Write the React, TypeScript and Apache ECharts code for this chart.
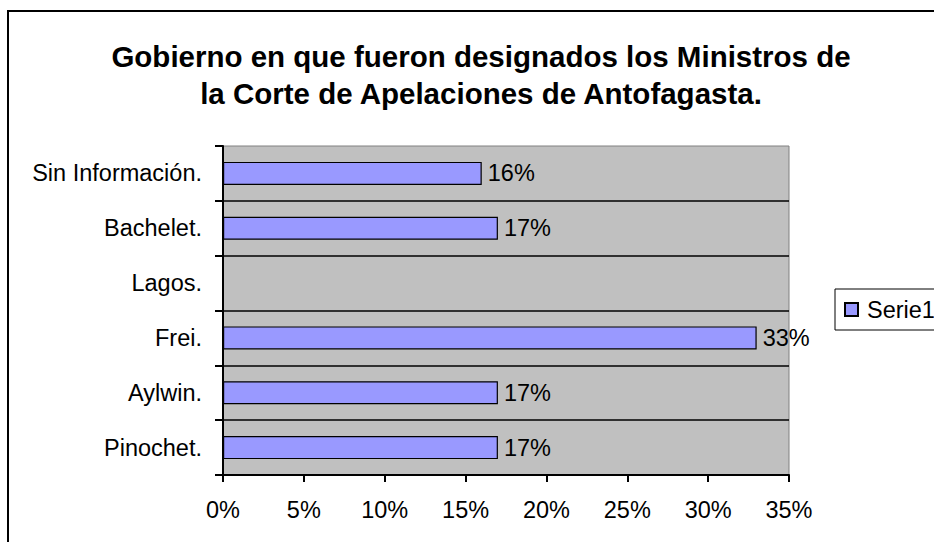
import React, { useEffect, useRef } from "react";
import * as echarts from "echarts";

const categories = ["Pinochet.", "Aylwin.", "Frei.", "Lagos.", "Bachelet.", "Sin Información."];
const serieValues: (number | null)[] = [17, 17, 33, null, 17, 16];
const seriesName = "Serie1";
const titleLines = [
  "Gobierno en que fueron designados los Ministros de",
  "la Corte de Apelaciones de Antofagasta.",
];

const FONT = "'Liberation Sans', Arial, sans-serif";

export default function App() {
  const ref = useRef<HTMLDivElement>(null);
  useEffect(() => {
    if (!ref.current) return;
    const chart = echarts.init(ref.current, null, { renderer: "svg" });
    chart.setOption({
      animation: false,
      backgroundColor: "#ffffff",
      textStyle: { fontFamily: FONT },
      title: {
        text: titleLines.join("\n"),
        left: 476,
        top: 33,
        textAlign: "center",
        textStyle: {
          fontFamily: FONT,
          fontSize: 29.5,
          fontWeight: "bold",
          color: "#000",
          lineHeight: 37,
        },
      },
      graphic: [
        {
          type: "rect",
          z: -10,
          silent: true,
          shape: { x: 8, y: 11, width: 2000, height: 2000 },
          style: { fill: "none", stroke: "#000", lineWidth: 2 },
        },
      ],
      legend: {
        left: 835,
        top: 289,
        orient: "vertical",
        padding: [8.5, 14, 8.5, 9],
        backgroundColor: "#fff",
        borderColor: "#000",
        borderWidth: 1,
        icon: "rect",
        itemWidth: 13,
        itemHeight: 13,
        textStyle: { fontFamily: FONT, fontSize: 23.5, color: "#000", padding: [0, 0, 0, 4] },
        data: [seriesName],
      },
      grid: {
        left: 223,
        right: 145,
        top: 146,
        bottom: 67,
        show: true,
        backgroundColor: "#C0C0C0",
        borderColor: "#808080",
        borderWidth: 1,
        containLabel: false,
        outerBoundsMode: "none",
      },
      xAxis: {
        type: "value",
        min: 0,
        max: 35,
        interval: 5,
        axisLine: { show: true, lineStyle: { color: "#000", width: 2 } },
        axisTick: { show: true, length: 7, lineStyle: { color: "#000", width: 2 } },
        axisLabel: {
          formatter: "{value}%",
          fontFamily: FONT,
          fontSize: 23.5,
          color: "#000",
          margin: 23,
        },
        splitLine: { show: false },
      },
      yAxis: {
        type: "category",
        data: categories,
        axisLine: { show: true, lineStyle: { color: "#000", width: 2 } },
        axisTick: { show: true, length: 8, lineStyle: { color: "#000", width: 2 } },
        axisLabel: {
          fontFamily: FONT,
          fontSize: 23.5,
          color: "#000",
          margin: 21,
        },
        splitLine: {
          show: true,
          showMaxLine: false,
          showMinLine: false,
          lineStyle: { color: "#000", width: 1.5 },
        },
      },
      series: [
        {
          name: seriesName,
          type: "bar",
          data: serieValues,
          barWidth: 23,
          itemStyle: { color: "#9999FF", borderColor: "#000", borderWidth: 1.2 },
          label: {
            show: true,
            position: "right",
            distance: 6,
            formatter: "{c}%",
            fontFamily: FONT,
            fontSize: 23.5,
            color: "#000",
          },
        },
      ],
    });
    return () => chart.dispose();
  }, []);
  return (
    <div
      ref={ref}
      style={{ position: "absolute", left: 0, top: 0, width: 934, height: 542 }}
    />
  );
}
